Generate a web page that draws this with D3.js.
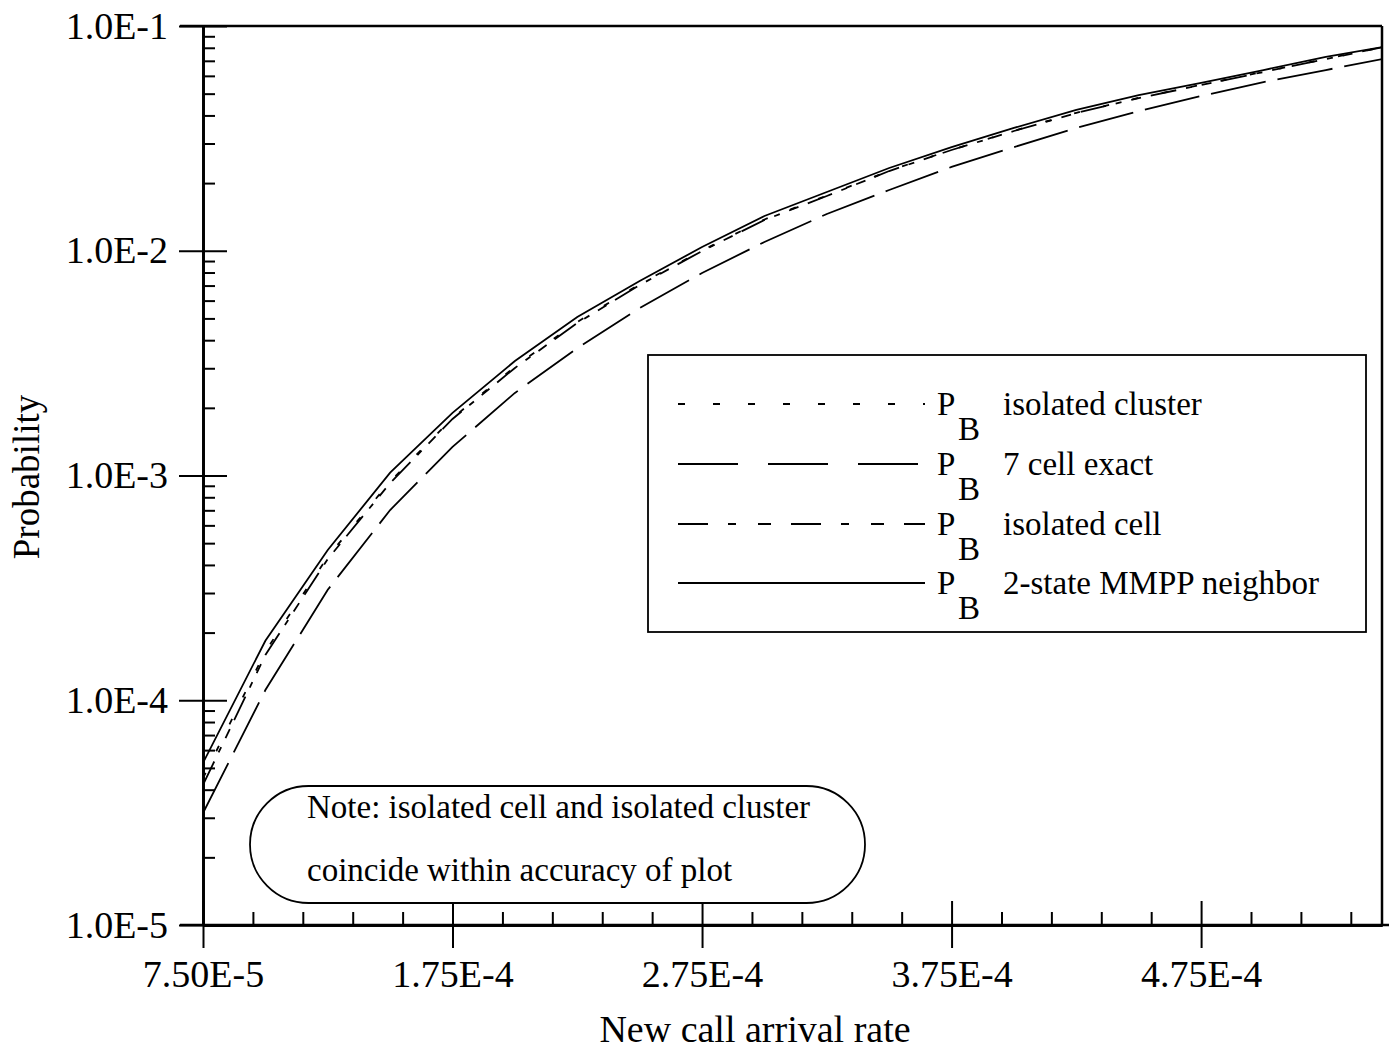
<!DOCTYPE html>
<html>
<head>
<meta charset="utf-8">
<script src="https://cdnjs.cloudflare.com/ajax/libs/d3/7.8.5/d3.min.js"></script>
<style>
body { margin: 0; background: #fff; }
text { font-family: "Liberation Serif", "Times New Roman", serif; fill: #000; }
</style>
</head>
<body>
<script>
"use strict";

// new call arrival rate (x)
const rates = [7.5e-5, 1.0e-4, 1.25e-4, 1.5e-4, 1.75e-4, 2.0e-4, 2.25e-4, 2.5e-4, 2.75e-4, 3.0e-4,
               3.25e-4, 3.5e-4, 3.75e-4, 4.0e-4, 4.25e-4, 4.5e-4, 4.75e-4, 5.0e-4, 5.25e-4, 5.5e-4];

// blocking probabilities
const pbCluster = [4.5e-5, 1.65e-4, 4.35e-4, 9.4e-4, 1.80e-3, 3.05e-3, 4.82e-3, 7.10e-3, 1.003e-2, 1.378e-2,
                   1.76e-2, 2.27e-2, 2.81e-2, 3.42e-2, 4.11e-2, 4.79e-2, 5.47e-2, 6.25e-2, 7.14e-2, 8.15e-2];
const pb7cell   = [3.15e-5, 1.11e-4, 3.10e-4, 7.02e-4, 1.34e-3, 2.33e-3, 3.69e-3, 5.56e-3, 7.96e-3, 1.094e-2,
                   1.457e-2, 1.864e-2, 2.36e-2, 2.89e-2, 3.52e-2, 4.18e-2, 4.88e-2, 5.63e-2, 6.37e-2, 7.21e-2];
const pbCell    = [4.2e-5, 1.59e-4, 4.25e-4, 9.26e-4, 1.785e-3, 3.01e-3, 4.77e-3, 7.04e-3, 9.97e-3, 1.370e-2,
                   1.752e-2, 2.263e-2, 2.807e-2, 3.41e-2, 4.10e-2, 4.78e-2, 5.46e-2, 6.24e-2, 7.13e-2, 8.14e-2];
const pbMmpp    = [5.26e-5, 1.84e-4, 4.66e-4, 1.03e-3, 1.90e-3, 3.23e-3, 5.07e-3, 7.33e-3, 1.039e-2, 1.428e-2,
                   1.826e-2, 2.335e-2, 2.894e-2, 3.52e-2, 4.23e-2, 4.93e-2, 5.58e-2, 6.37e-2, 7.28e-2, 8.15e-2];

const xTickValues = [7.5e-5, 1.75e-4, 2.75e-4, 3.75e-4, 4.75e-4];
const xTickLabels = ["7.50E-5", "1.75E-4", "2.75E-4", "3.75E-4", "4.75E-4"];
const yTickValues = [1e-5, 1e-4, 1e-3, 1e-2, 1e-1];
const yTickLabels = ["1.0E-5", "1.0E-4", "1.0E-3", "1.0E-2", "1.0E-1"];

(function() {

const series = [
    {label: "isolated cluster", values: pbCluster, dash: "6,24", legendDash: "7,28"},
    {label: "7 cell exact", values: pb7cell, dash: "56,12", legendDash: "60,30"},
    {label: "isolated cell", values: pbCell, dash: "26,10,6,10,10,10", legendDash: "30,20,8,22,13,20"},
    {label: "2-state MMPP neighbor", values: pbMmpp, dash: null, legendDash: null}
];

const W = 1389, H = 1053;
const plotLeft = 203, plotRight = 1382, plotTop = 26, plotBottom = 925;

const svg = d3.select("body").append("svg")
    .attr("width", W)
    .attr("height", H);

const x = d3.scaleLinear().domain([7.5e-5, 5.475e-4]).range([plotLeft, plotRight]);
const y = d3.scaleLog().domain([1e-5, 1e-1]).range([plotBottom, plotTop]);

svg.append("defs").append("clipPath").attr("id", "plot")
    .append("rect")
    .attr("x", plotLeft).attr("y", plotTop)
    .attr("width", plotRight - plotLeft).attr("height", plotBottom - plotTop);

// curves
const line = d3.line()
    .x(function(d) { return x(d[0]); })
    .y(function(d) { return y(d[1]); });

svg.append("g").attr("clip-path", "url(#plot)")
    .selectAll("path")
    .data(series.slice().reverse())
    .enter()
    .append("path")
    .attr("d", function(s) { return line(rates.map(function(r, i) { return [r, s.values[i]]; })); })
    .attr("fill", "none")
    .attr("stroke", "#000")
    .attr("stroke-width", 1.8)
    .attr("stroke-dasharray", function(s) { return s.dash; });

// frame
svg.append("line").attr("x1", 180).attr("x2", plotRight).attr("y1", plotTop).attr("y2", plotTop)
    .attr("stroke", "#000").attr("stroke-width", 2.5);
svg.append("line").attr("x1", plotRight).attr("x2", plotRight).attr("y1", plotTop).attr("y2", plotBottom)
    .attr("stroke", "#000").attr("stroke-width", 2.5);
svg.append("line").attr("x1", 180).attr("x2", W).attr("y1", plotBottom).attr("y2", plotBottom)
    .attr("stroke", "#000").attr("stroke-width", 2.5);

// y axis
const yMinor = y.ticks().filter(function(v) {
    return yTickValues.every(function(t) { return Math.abs(Math.log10(t) - Math.log10(v)) > 1e-6; });
});

svg.append("g").attr("transform", "translate(" + plotLeft + ",0)")
    .call(d3.axisLeft(y).tickValues(yTickValues)
        .tickFormat(function(d, i) { return yTickLabels[i]; })
        .tickSize(24).tickSizeOuter(0).tickPadding(11));
svg.append("g").attr("transform", "translate(" + plotLeft + ",0)")
    .call(d3.axisRight(y).tickValues(yTickValues).tickFormat("").tickSize(24).tickSizeOuter(0));
svg.append("g").attr("transform", "translate(" + plotLeft + ",0)")
    .call(d3.axisRight(y).tickValues(yMinor).tickFormat("").tickSize(12).tickSizeOuter(0));

// x axis
const xMinor = d3.range(7.5e-5, 5.45e-4, 2e-5).filter(function(v) {
    return xTickValues.every(function(t) { return Math.abs(t - v) > 1e-6; });
});

svg.append("g").attr("transform", "translate(0," + plotBottom + ")")
    .call(d3.axisBottom(x).tickValues(xTickValues)
        .tickFormat(function(d, i) { return xTickLabels[i]; })
        .tickSize(23).tickSizeOuter(0).tickPadding(12));
svg.append("g").attr("transform", "translate(0," + plotBottom + ")")
    .call(d3.axisTop(x).tickValues(xTickValues).tickFormat("").tickSize(24).tickSizeOuter(0));
svg.append("g").attr("transform", "translate(0," + plotBottom + ")")
    .call(d3.axisTop(x).tickValues(xMinor).tickFormat("").tickSize(13).tickSizeOuter(0));

svg.selectAll(".domain").attr("stroke-width", 2.5);
svg.selectAll(".tick line").attr("stroke-width", 2);
svg.selectAll(".tick text")
    .style("font-family", "'Liberation Serif', 'Times New Roman', serif")
    .style("font-size", "38px");

// axis titles
svg.append("text")
    .attr("transform", "translate(39,477) rotate(-90)")
    .attr("text-anchor", "middle")
    .style("font-size", "37px")
    .text("Probability");

svg.append("text")
    .attr("x", 755).attr("y", 1042)
    .attr("text-anchor", "middle")
    .style("font-size", "38px")
    .text("New call arrival rate");

// legend
const legend = svg.append("g");
legend.append("rect")
    .attr("x", 648).attr("y", 355).attr("width", 718).attr("height", 277)
    .attr("fill", "#fff").attr("stroke", "#000").attr("stroke-width", 1.8);

const rowY = [404, 464, 524, 583];
const rows = legend.selectAll(".row")
    .data(series)
    .enter()
    .append("g")
    .attr("class", "row")
    .attr("transform", function(d, i) { return "translate(0," + rowY[i] + ")"; });

rows.append("line")
    .attr("x1", 678).attr("x2", 925)
    .attr("stroke", "#000").attr("stroke-width", 1.8)
    .attr("stroke-dasharray", function(d) { return d.legendDash; });
rows.append("text").attr("x", 937).attr("y", 11).style("font-size", "33px").text("P");
rows.append("text").attr("x", 958).attr("y", 36).style("font-size", "33px").text("B");
rows.append("text").attr("x", 1003).attr("y", 11).style("font-size", "33px")
    .text(function(d) { return d.label; });

// note
svg.append("rect")
    .attr("x", 250).attr("y", 786).attr("width", 615).attr("height", 117)
    .attr("rx", 58.5).attr("ry", 58.5)
    .attr("fill", "#fff").attr("stroke", "#000").attr("stroke-width", 1.8);
svg.append("text").attr("x", 307).attr("y", 818).style("font-size", "33px")
    .text("Note: isolated cell and isolated cluster");
svg.append("text").attr("x", 307).attr("y", 881).style("font-size", "33px")
    .text("coincide within accuracy of plot");

})();
</script>
</body>
</html>
